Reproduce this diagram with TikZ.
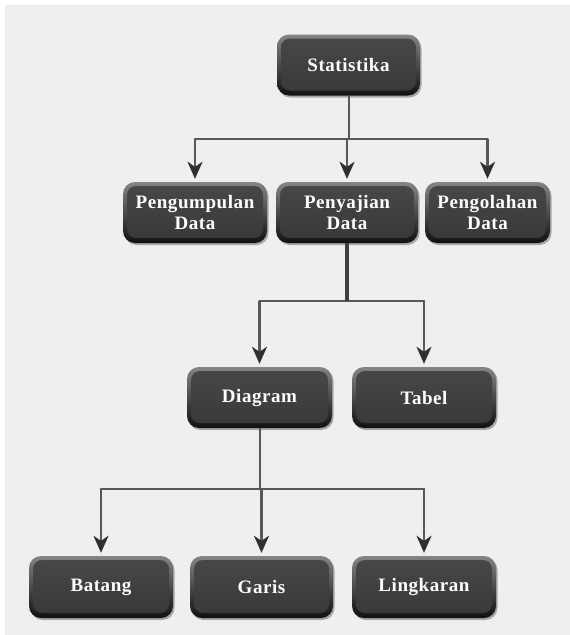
\documentclass[tikz,border=0pt]{standalone}
\usepackage{fontspec}
\newfontfamily\boxfont{Liberation Serif}[LetterSpace=3]
\usetikzlibrary{arrows.meta,shadows}
\definecolor{bgc}{HTML}{EFEFEF}
\definecolor{facetop}{HTML}{484848}
\definecolor{facebot}{HTML}{383838}
\definecolor{rimtop}{HTML}{858585}
\definecolor{rimbot}{HTML}{101010}
\definecolor{linec}{HTML}{585858}
\definecolor{tipc}{HTML}{303030}
\tikzset{
  box/.style={rounded corners=12pt, minimum height=61pt, text=white,
    font=\boxfont\bfseries\fontsize{19}{21}\selectfont, align=center,
    top color=rimtop, bottom color=rimbot, inner sep=0pt,
    drop shadow={shadow xshift=1.5pt, shadow yshift=-2pt, opacity=.3, fill=black},
    path picture={
      \shade[top color=facetop, bottom color=facebot, rounded corners=9pt]
        ([shift={(4pt,-4pt)}]path picture bounding box.north west) rectangle
        ([shift={(-4pt,5pt)}]path picture bounding box.south east);
    }},
  stem/.style={draw=linec, line width=2pt},
  bar/.style={draw=linec, line width=2.8pt, line cap=round},
  arr/.style={draw=linec, line width=2.2pt, shorten >=3pt,
    -{Stealth[length=17pt, width=15pt, inset=5pt, color=tipc]}}
}
\begin{document}
\begin{tikzpicture}[x=1pt,y=-1pt]
\useasboundingbox (0,0) rectangle (570,635);
\fill[white] (0,0) rectangle (570,635);
\fill[bgc] (5,5) rectangle (570,635);

\node[box, minimum width=143pt] (stat) at (348.5,65) {Statistika};
\node[box, minimum width=144pt] (pgm) at (195,212.5) {Pengumpulan\\Data};
\node[box, minimum width=142pt] (pny) at (347,212.5) {Penyajian\\Data};
\node[box, minimum width=125pt] (pgl) at (487.5,212.5) {Pengolahan\\Data};
\node[box, minimum width=145pt] (dia) at (259.5,397.5) {Diagram};
\node[box, minimum width=144pt] (tab) at (424,397.5) {Tabel};
\node[box, minimum width=144pt, minimum height=62pt] (bat) at (101,587) {Batang};
\node[box, minimum width=143pt, minimum height=62pt] (gar) at (261.5,587) {Garis};
\node[box, minimum width=144pt, minimum height=62pt] (lin) at (424,587) {Lingkaran};

% level 1
\coordinate (j1) at (stat.south |- 0,139);
\draw[stem] (stat.south) -- (j1);
\draw[bar] (pgm.north |- j1) -- (pgl.north |- j1);
\draw[arr] (pgm.north |- j1) -- (pgm.north);
\draw[arr] (pny.north |- j1) -- (pny.north);
\draw[arr] (pgl.north |- j1) -- (pgl.north);

% level 2
\coordinate (j2) at (pny.south |- 0,301);
\draw[bar] (dia.north |- j2) -- (tab.north |- j2);
\draw[draw=black!75, line width=4.5pt] (pny.south) -- (j2);
\draw[arr] (dia.north |- j2) -- (dia.north);
\draw[arr] (tab.north |- j2) -- (tab.north);

% level 3
\coordinate (j3) at (dia.south |- 0,489);
\draw[stem] (dia.south) -- (j3);
\draw[bar] (bat.north |- j3) -- (lin.north |- j3);
\draw[arr] (bat.north |- j3) -- (bat.north);
\draw[arr] (gar.north |- j3) -- (gar.north);
\draw[arr] (lin.north |- j3) -- (lin.north);
\end{tikzpicture}
\end{document}
